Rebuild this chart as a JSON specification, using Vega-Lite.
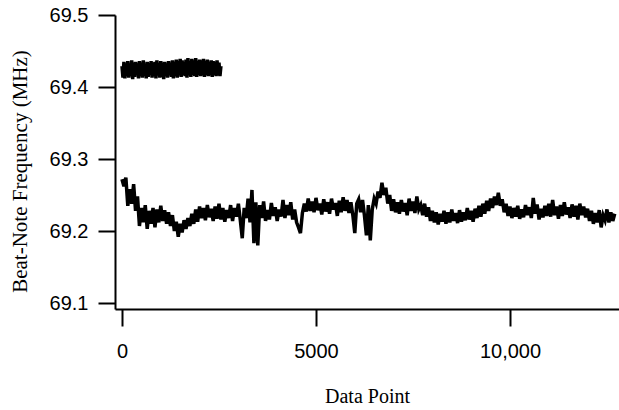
{
  "$schema": "https://vega.github.io/schema/vega-lite/v6.json",
  "width": 504,
  "height": 294,
  "autosize": {"type": "none"},
  "padding": {"left": 115, "top": 15, "right": 0, "bottom": 101},
  "background": "white",
  "config": {"view": {"stroke": null}},
  "datasets": {
    "a": [
      [0,69.429],[25,69.413],[50,69.435],[75,69.412],[100,69.433],[125,69.415],[150,69.436],[175,69.413],[200,69.432],[225,69.416],
      [250,69.437],[275,69.411],[300,69.434],[325,69.414],[350,69.435],[375,69.417],[400,69.433],[425,69.412],[450,69.436],[475,69.415],
      [500,69.434],[525,69.413],[550,69.437],[575,69.416],[600,69.432],[625,69.412],[650,69.435],[675,69.414],[700,69.433],[725,69.417],
      [750,69.436],[775,69.413],[800,69.434],[825,69.415],[850,69.435],[875,69.412],[900,69.437],[925,69.416],[950,69.433],[975,69.413],
      [1000,69.436],[1025,69.414],[1050,69.434],[1075,69.411],[1100,69.435],[1125,69.415],[1150,69.433],[1175,69.413],[1200,69.436],[1225,69.416],
      [1250,69.434],[1275,69.414],[1300,69.437],[1325,69.412],[1350,69.435],[1375,69.415],[1400,69.438],[1425,69.413],[1450,69.436],[1475,69.416],
      [1500,69.439],[1525,69.414],[1550,69.437],[1575,69.417],[1600,69.435],[1625,69.415],[1650,69.438],[1675,69.413],[1700,69.440],[1725,69.416],
      [1750,69.436],[1775,69.414],[1800,69.439],[1825,69.417],[1850,69.437],[1875,69.415],[1900,69.440],[1925,69.414],[1950,69.436],[1975,69.417],
      [2000,69.438],[2025,69.415],[2050,69.437],[2075,69.416],[2100,69.439],[2125,69.414],[2150,69.436],[2175,69.417],[2200,69.438],[2225,69.415],
      [2250,69.435],[2275,69.416],[2300,69.437],[2325,69.414],[2350,69.436],[2375,69.417],[2400,69.435],[2425,69.415],[2450,69.437],[2475,69.416],
      [2500,69.434],[2525,69.415],[2550,69.429]
    ],
    "b": [
      [0,69.272],[50,69.262],[100,69.274],[150,69.235],[200,69.258],[250,69.238],[300,69.265],[350,69.228],[400,69.248],[450,69.207],
      [500,69.232],[550,69.212],[600,69.236],[650,69.203],[700,69.228],[750,69.210],[800,69.232],[850,69.205],[900,69.230],[950,69.212],
      [1000,69.235],[1050,69.214],[1100,69.229],[1150,69.210],[1200,69.226],[1250,69.207],[1300,69.222],[1350,69.200],[1400,69.213],[1450,69.192],
      [1500,69.210],[1550,69.198],[1600,69.215],[1650,69.203],[1700,69.218],[1750,69.207],[1800,69.224],[1850,69.210],[1900,69.230],[1950,69.213],
      [2000,69.234],[2050,69.218],[2100,69.232],[2150,69.215],[2200,69.236],[2250,69.219],[2300,69.231],[2350,69.214],[2400,69.234],[2450,69.217],
      [2500,69.238],[2550,69.216],[2600,69.232],[2650,69.213],[2700,69.229],[2750,69.218],[2800,69.236],[2850,69.214],[2900,69.232],[2950,69.220],
      [3000,69.238],[3050,69.215],[3100,69.190],[3150,69.232],[3200,69.218],[3250,69.245],[3300,69.212],[3350,69.257],[3400,69.183],[3450,69.240],
      [3500,69.180],[3550,69.236],[3600,69.218],[3650,69.241],[3700,69.214],[3750,69.229],[3800,69.216],[3850,69.239],[3900,69.221],[3950,69.233],
      [4000,69.214],[4050,69.230],[4100,69.220],[4150,69.243],[4200,69.218],[4250,69.236],[4300,69.222],[4350,69.240],[4400,69.216],[4450,69.230],
      [4500,69.212],[4550,69.205],[4600,69.197],[4650,69.225],[4700,69.238],[4750,69.227],[4800,69.245],[4850,69.228],[4900,69.241],[4950,69.226],
      [5000,69.246],[5050,69.229],[5100,69.238],[5150,69.223],[5200,69.244],[5250,69.227],[5300,69.240],[5350,69.224],[5400,69.245],[5450,69.230],
      [5500,69.239],[5550,69.221],[5600,69.242],[5650,69.226],[5700,69.247],[5750,69.228],[5800,69.243],[5850,69.225],[5900,69.240],[5950,69.222],
      [6000,69.197],[6050,69.238],[6100,69.244],[6150,69.226],[6200,69.243],[6250,69.221],[6300,69.194],[6350,69.236],[6400,69.187],[6450,69.230],
      [6500,69.245],[6550,69.238],[6600,69.255],[6650,69.246],[6700,69.267],[6750,69.250],[6800,69.260],[6850,69.238],[6900,69.250],[6950,69.228],
      [7000,69.244],[7050,69.226],[7100,69.240],[7150,69.224],[7200,69.243],[7250,69.227],[7300,69.239],[7350,69.222],[7400,69.245],[7450,69.228],
      [7500,69.241],[7550,69.225],[7600,69.248],[7650,69.230],[7700,69.236],[7750,69.222],[7800,69.238],[7850,69.220],[7900,69.233],[7950,69.214],
      [8000,69.228],[8050,69.212],[8100,69.226],[8150,69.209],[8200,69.224],[8250,69.213],[8300,69.228],[8350,69.210],[8400,69.226],[8450,69.212],
      [8500,69.230],[8550,69.214],[8600,69.225],[8650,69.211],[8700,69.229],[8750,69.213],[8800,69.226],[8850,69.215],[8900,69.232],[8950,69.216],
      [9000,69.228],[9050,69.213],[9100,69.231],[9150,69.218],[9200,69.235],[9250,69.220],[9300,69.238],[9350,69.224],[9400,69.242],[9450,69.228],
      [9500,69.245],[9550,69.232],[9600,69.248],[9650,69.236],[9700,69.253],[9750,69.235],[9800,69.244],[9850,69.226],[9900,69.238],[9950,69.221],
      [10000,69.234],[10050,69.218],[10100,69.232],[10150,69.220],[10200,69.235],[10250,69.217],[10300,69.230],[10350,69.219],[10400,69.236],[10450,69.222],
      [10500,69.233],[10550,69.218],[10600,69.246],[10650,69.224],[10700,69.237],[10750,69.216],[10800,69.231],[10850,69.219],[10900,69.235],[10950,69.221],
      [11000,69.238],[11050,69.220],[11100,69.243],[11150,69.222],[11200,69.234],[11250,69.217],[11300,69.236],[11350,69.221],[11400,69.240],[11450,69.223],
      [11500,69.233],[11550,69.218],[11600,69.237],[11650,69.220],[11700,69.235],[11750,69.216],[11800,69.238],[11850,69.222],[11900,69.234],[11950,69.219],
      [12000,69.231],[12050,69.214],[12100,69.228],[12150,69.210],[12200,69.225],[12250,69.212],[12300,69.229],[12350,69.205],[12400,69.222],[12450,69.215],
      [12500,69.230],[12550,69.212],[12600,69.226],[12650,69.214],[12700,69.224]
    ]
  },
  "encoding": {
    "x": {
      "field": "x", "type": "quantitative",
      "scale": {"domain": [-180, 12810], "nice": false, "zero": false},
      "axis": {
        "title": "Data Point",
        "values": [0, 5000, 10000],
        "labelExpr": "datum.value >= 10000 ? format(datum.value, ',') : format(datum.value, 'd')",
        "grid": false,
        "domainColor": "black", "domainWidth": 2,
        "tickColor": "black", "tickWidth": 2, "tickSize": 17,
        "labelFont": "Liberation Sans", "labelFontSize": 20, "labelColor": "black", "labelPadding": 15,
        "titleFont": "Liberation Serif", "titleFontSize": 20, "titleFontWeight": "normal", "titleColor": "black", "titlePadding": 25
      }
    },
    "y": {
      "field": "y", "type": "quantitative",
      "scale": {"domain": [69.0917, 69.5], "nice": false, "zero": false},
      "axis": {
        "title": "Beat-Note Frequency (MHz)",
        "titleY": 156,
        "values": [69.1, 69.2, 69.3, 69.4, 69.5],
        "format": ".1f",
        "grid": false,
        "domainColor": "black", "domainWidth": 2,
        "tickColor": "black", "tickWidth": 2, "tickSize": 17,
        "labelFont": "Liberation Sans", "labelFontSize": 20, "labelColor": "black", "labelPadding": 10,
        "titleFont": "Liberation Serif", "titleFontSize": 21, "titleFontWeight": "normal", "titleColor": "black", "titlePadding": 19
      }
    }
  },
  "layer": [
    {
      "data": {"name": "a"},
      "transform": [{"calculate": "datum[0]", "as": "x"}, {"calculate": "datum[1]", "as": "y"}],
      "mark": {"type": "line", "color": "black", "strokeWidth": 3.5, "clip": true}
    },
    {
      "data": {"name": "b"},
      "transform": [{"calculate": "datum[0]", "as": "x"}, {"calculate": "datum[1]", "as": "y"}],
      "mark": {"type": "line", "color": "black", "strokeWidth": 3.5, "clip": true}
    }
  ]
}
